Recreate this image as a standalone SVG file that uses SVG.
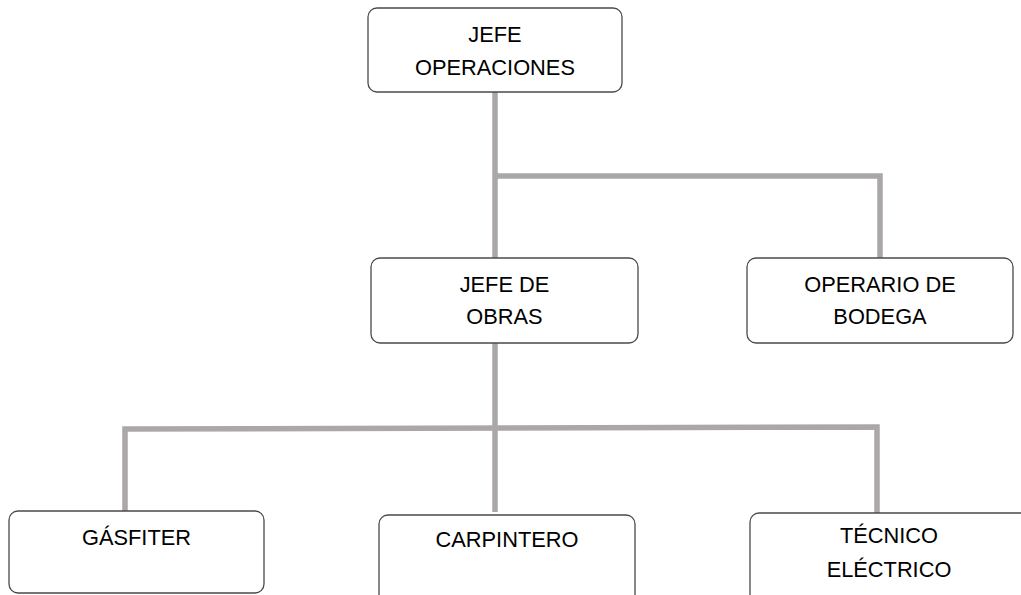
<svg xmlns="http://www.w3.org/2000/svg" width="1021" height="595" viewBox="0 0 1021 595">
  <style>
    .box { fill: #ffffff; stroke: #4a4a4a; stroke-width: 1.3; }
    .link { fill: none; stroke: #aba7a7; stroke-width: 5.5; stroke-linejoin: miter; }
    .label { font-family: "Liberation Sans", Arial, sans-serif; font-size: 21.8px; fill: #000000; text-anchor: middle; }
  </style>
  <rect width="1021" height="595" fill="#ffffff"/>

  <!-- connectors -->
  <g id="connectors">
    <path class="link" d="M495,92 V258"/>
    <path class="link" d="M495,176 H880 V258"/>
    <path class="link" d="M495,343 V512"/>
    <path class="link" d="M125,511 V429 L877,427 V513"/>
  </g>

  <g id="jefe-operaciones">
    <rect class="box" x="368" y="8" width="254" height="84" rx="9"/>
    <text class="label" x="495" y="42">JEFE</text>
    <text class="label" x="495" y="75">OPERACIONES</text>
  </g>

  <g id="jefe-obras">
    <rect class="box" x="371" y="258" width="267" height="85" rx="9"/>
    <text class="label" x="504.5" y="292">JEFE DE</text>
    <text class="label" x="504.5" y="324">OBRAS</text>
  </g>

  <g id="operario-bodega">
    <rect class="box" x="747" y="258" width="266" height="85" rx="9"/>
    <text class="label" x="880" y="292">OPERARIO DE</text>
    <text class="label" x="880" y="324">BODEGA</text>
  </g>

  <g id="gasfiter">
    <rect class="box" x="9" y="511" width="255" height="82" rx="9"/>
    <text class="label" x="136.5" y="545">GÁSFITER</text>
  </g>

  <g id="carpintero">
    <rect class="box" x="379" y="515" width="256" height="90" rx="9"/>
    <text class="label" x="507" y="547">CARPINTERO</text>
  </g>

  <g id="tecnico-electrico">
    <rect class="box" x="750" y="513" width="290" height="90" rx="9"/>
    <text class="label" x="889" y="543">TÉCNICO</text>
    <text class="label" x="889" y="577">ELÉCTRICO</text>
  </g>
</svg>
